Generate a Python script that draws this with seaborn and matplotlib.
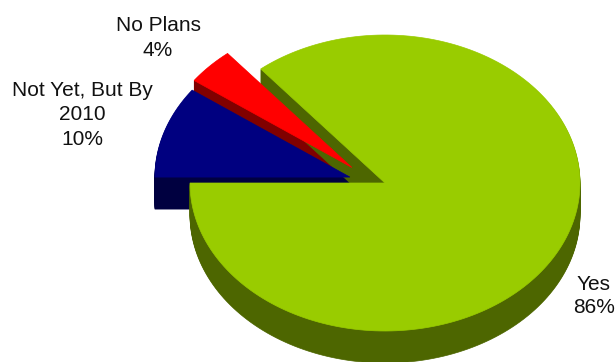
import numpy as np
import matplotlib
matplotlib.use("Agg")
import matplotlib.pyplot as plt
from matplotlib.patches import Polygon
import seaborn as sns

# ---- data ----
categories = ["Yes", "No Plans", "Not Yet, But By\n2010"]
values = [86, 4, 10]
top_colors = ["#99CC00", "#FF0000", "#000080"]
side_colors = ["#4D6600", "#800000", "#000040"]
# explosion offsets of each slice, in pie-radius units (x, y)
explode_xy = [(0.0, 0.0), (-0.17, 0.105), (-0.18, 0.04)]

sns.set_theme(style="white")
plt.rcParams["font.family"] = ["Liberation Sans", "DejaVu Sans"]

W, H = 616, 362
fig = plt.figure(figsize=(W / 100, H / 100), dpi=100)
ax = fig.add_axes([0, 0, 1, 1])
ax.set_xlim(0, W)
ax.set_ylim(H, 0)
ax.axis("off")

cx, cy, rx, ry, depth = 385, 183, 195, 148, 32
start = 180.0
total = float(sum(values))

# compute angles
wedges = []
a0 = start
for v in values:
    a1 = a0 + 360.0 * v / total
    wedges.append((a0, a1))
    a0 = a1

def wedge_pts(a0, a1, off):
    ox, oy = off
    t = np.radians(np.linspace(a0, a1, 200))
    xs = np.concatenate([[ox], ox + np.cos(t), [ox]])
    ys = np.concatenate([[oy], oy + np.sin(t), [oy]])
    return np.column_stack([cx + rx * xs, cy - ry * ys])

order = [1, 2, 0]
# sides first
for i in order:
    a0, a1 = wedges[i]
    pts = wedge_pts(a0, a1, explode_xy[i])
    for d in range(depth, 0, -1):
        ax.add_patch(Polygon(pts + [0, d], closed=True, facecolor=side_colors[i],
                             edgecolor=side_colors[i], lw=0.5))
# then top faces
for i in order:
    a0, a1 = wedges[i]
    pts = wedge_pts(a0, a1, explode_xy[i])
    ax.add_patch(Polygon(pts, closed=True, facecolor=top_colors[i],
                         edgecolor=top_colors[i], lw=0.5))

fs = 15
labels = [f"{c}\n{v}%" for c, v in zip(categories, values)]
ax.text(594, 296, labels[0], ha="center", va="center", fontsize=fs,
        color="#111111", linespacing=1.3)
ax.text(158, 38, labels[1], ha="center", va="center", fontsize=fs,
        color="#111111", linespacing=1.4)
ax.text(82, 115, labels[2], ha="center", va="center",
        fontsize=fs, color="#111111", linespacing=1.35)

fig.savefig("out.png", dpi=100, facecolor="white")
